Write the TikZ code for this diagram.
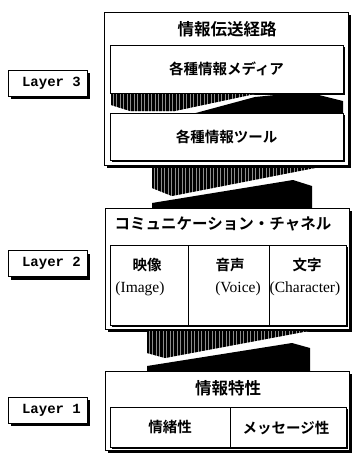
\documentclass[tikz,border=0pt]{standalone}
\usepackage{fontspec}
\newfontfamily\jp{Noto Sans CJK JP Bold}
\newfontfamily\serifen{Liberation Serif}
\newfontfamily\monoen{Liberation Mono}
\usetikzlibrary{shadows}
\begin{document}
\begin{tikzpicture}[x=1pt,y=-1pt,
  box/.style={draw=black, line width=0.9pt, fill=white, inner sep=0pt, outer sep=0pt},
  bigshadow/.style={drop shadow={shadow xshift=3pt, shadow yshift=-3pt, fill=black, opacity=1}},
  smallshadow/.style={drop shadow={shadow xshift=1.5pt, shadow yshift=-1.5pt, fill=black, opacity=1}},
  layerbox/.style={box, bigshadow, minimum width=79pt, minimum height=26pt,
     font=\monoen\bfseries\fontsize{14}{14}\selectfont},
  jtitle/.style={inner sep=0pt, font=\jp\fontsize{16.5}{17}\selectfont},
  jtext/.style={inner sep=0pt, font=\jp\fontsize{14.5}{15}\selectfont},
  entext/.style={inner sep=0pt, font=\serifen\fontsize{15.5}{16}\selectfont},
  hatchline/.style={line width=0.7pt, draw=black},
  hatchbg/.style={fill=black!45},
  solidpart/.style={fill=black, draw=none}
]
\useasboundingbox (0,0) rectangle (353,455);

% ---------- Layer labels ----------
\node[layerbox] (L3) at (47.5,83) {\hspace*{8pt}Layer 3};
\node[layerbox] (L2) at (47.5,263.5) {\hspace*{8pt}Layer 2};
\node[layerbox] (L1) at (47.5,410) {\hspace*{8pt}Layer 1};

% ---------- Layer 3 ----------
\node[box, bigshadow, minimum width=244pt, minimum height=153pt] (O3) at (226,88.5) {};
\node[jtitle] (T3) at (227,29) {情報伝送経路};
\node[box, smallshadow, minimum width=233pt, minimum height=48pt] (media) at (226.5,69) {};
\node[jtext] at (media.center) {各種情報メディア};
\node[box, smallshadow, minimum width=233pt, minimum height=47pt] (tool) at (226.5,137) {};
\node[jtext] at (tool.center) {各種情報ツール};

% connector inside layer 3
\begin{scope}
  \clip (111,94) -- (255,94) -- (175,111) -- (130,111) -- (111,105) -- cycle;
  \fill[hatchbg] (100,90) rectangle (260,115);
  \foreach \x in {110,111.4,...,260} \draw[hatchline] (\x,90) -- (\x,115);
\end{scope}
\fill[solidpart] (195,113.2) -- (255,97) -- (285,94) -- (315,94) -- (343,101) -- (343,113.2) -- cycle;

% ---------- connector layer 3 -> layer 2 ----------
\begin{scope}
  \clip (152,168) -- (315,168) -- (172,196) -- (152,188) -- cycle;
  \fill[hatchbg] (150,165) rectangle (320,200);
  \foreach \x in {151,152.4,...,320} \draw[hatchline] (\x,165) -- (\x,200);
\end{scope}
\fill[solidpart] (152,208.5) -- (152,203) -- (293,180) -- (312,186) -- (312,208.5) -- cycle;

% ---------- Layer 2 ----------
\node[box, bigshadow, minimum width=244pt, minimum height=121pt] (O2) at (227,268.5) {};
\node[jtext, font=\jp\fontsize{15.5}{16}\selectfont] (T2) at (223,224) {コミュニケーション・チャネル};
\node[box, smallshadow, minimum width=78pt, minimum height=80pt] (c1) at (149,285) {};
\node[box, smallshadow, minimum width=81pt, minimum height=80pt] (c2) at (228.5,285) {};
\node[box, smallshadow, minimum width=77pt, minimum height=80pt] (c3) at (307.5,285) {};
\node[jtext] at (147,265) {映像};
\node[entext] at (140,289) {(Image)};
\node[jtext] at (230,265) {音声};
\node[entext] at (238,289) {(Voice)};
\node[jtext] at (307,265) {文字};
\node[entext] at (305,289) {(Character)};

% ---------- connector layer 2 -> layer 1 ----------
\begin{scope}
  \clip (147,331) -- (309,331) -- (165,358) -- (147,353) -- cycle;
  \fill[hatchbg] (145,328) rectangle (315,362);
  \foreach \x in {146,147.4,...,315} \draw[hatchline] (\x,328) -- (\x,362);
\end{scope}
\fill[solidpart] (147,371.5) -- (147,366) -- (292,343) -- (310,348) -- (310,371.5) -- cycle;

% ---------- Layer 1 ----------
\node[box, bigshadow, minimum width=244pt, minimum height=79pt] (O1) at (227,410.5) {};
\node[jtitle] (T1) at (228,388) {情報特性};
\node[box, smallshadow, minimum width=120pt, minimum height=40pt] (e1) at (170,427) {};
\node[box, smallshadow, minimum width=116pt, minimum height=40pt] (e2) at (288,427) {};
\node[jtext] at (e1.center) {情緒性};
\node[jtext] at (286,428) {メッセージ性};
\end{tikzpicture}
\end{document}
